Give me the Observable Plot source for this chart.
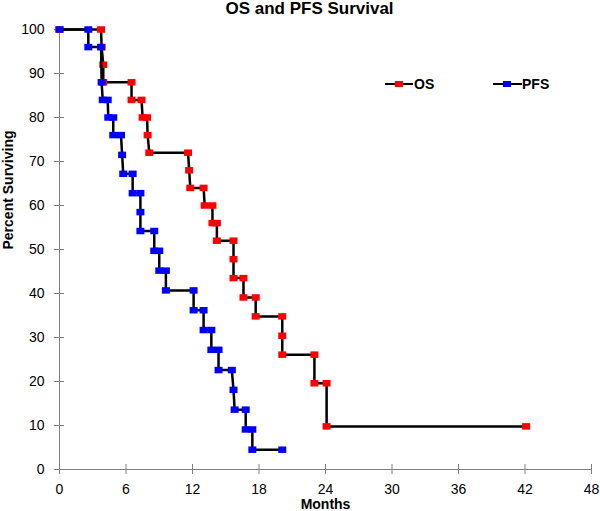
<!DOCTYPE html>
<html>
<head>
<meta charset="utf-8">
<script src="https://cdn.jsdelivr.net/npm/d3@7"></script>
<script src="https://cdn.jsdelivr.net/npm/@observablehq/plot@0.6"></script>
<style>
  html, body { margin: 0; padding: 0; background: #fff; }
  #wrap { position: relative; width: 600px; height: 511px; font-family: Arial, "Liberation Sans", sans-serif; }
  .lg { position: absolute; }
  .lg-line { height: 2.5px; background: #000; }
  .lg-sq { width: 8px; height: 6.5px; }
  .lg-txt { font: bold 14px Arial, "Liberation Sans", sans-serif; color: #000; transform: translateY(-50%); line-height: 1; }
</style>
</head>
<body>
<div id="wrap"></div>
<script>
// ---- data ----
const title = "OS and PFS Survival";
const xLabel = "Months";
const yLabel = "Percent Surviving";
const xTicks = [0, 6, 12, 18, 24, 30, 36, 42, 48];
const yTicks = [0, 10, 20, 30, 40, 50, 60, 70, 80, 90, 100];
const seriesNames = ["OS", "PFS"];
const seriesColors = ["#ff0000", "#0000ff"];

const osMonths  = [0, 3.75, 3.8, 3.95, 3.95, 6.5, 6.5, 7.4, 7.5, 7.9, 7.95, 8.1, 11.6, 11.7, 11.8, 13.0, 13.1, 13.8, 13.8, 14.2, 14.2, 15.7, 15.7, 15.7, 16.6, 16.6, 17.7, 17.7, 20.1, 20.1, 20.1, 23.0, 23.0, 24.1, 24.1, 42.1];
const osPercent = [100, 100, 96, 92, 88, 88, 84, 84, 80, 80, 76, 72, 72, 68, 64, 64, 60, 60, 56, 56, 52, 52, 47.8, 43.5, 43.5, 39.1, 39.1, 34.8, 34.8, 30.4, 26.1, 26.1, 19.6, 19.6, 9.8, 9.8];

const pfsMonths  = [0, 2.6, 2.6, 3.75, 3.8, 3.9, 4.35, 4.4, 4.85, 4.85, 5.55, 5.65, 5.75, 6.6, 6.6, 7.3, 7.3, 7.3, 8.55, 8.55, 9.0, 9.0, 9.6, 9.6, 12.1, 12.1, 13.0, 13.0, 13.7, 13.7, 14.35, 14.35, 15.55, 15.7, 15.8, 16.8, 16.8, 17.4, 17.4, 20.1];
const pfsPercent = [100, 100, 96, 96, 88, 84, 84, 80, 80, 76, 76, 71.5, 67.2, 67.2, 62.8, 62.8, 58.5, 54.2, 54.2, 49.7, 49.7, 45.2, 45.2, 40.7, 40.7, 36.2, 36.2, 31.7, 31.7, 27.2, 27.2, 22.6, 22.6, 18.1, 13.6, 13.6, 9.1, 9.1, 4.5, 4.5];

// ---- build tables ----
const osData = osMonths.map((m, i) => ({month: m, pct: osPercent[i]}));
const pfsData = pfsMonths.map((m, i) => ({month: m, pct: pfsPercent[i]}));

// rectangular marker (slightly wider than tall)
const boxSymbol = {
  draw(context) {
    context.rect(-4, -3.25, 8, 6.5);
  }
};

const axisGray = "#808080";

const chart = Plot.plot({
  width: 600,
  height: 511,
  marginTop: 29,
  marginBottom: 42,
  marginLeft: 59,
  marginRight: 9,
  style: {fontFamily: "Arial, 'Liberation Sans', sans-serif", fontSize: "14px", background: "#fff", color: "#000", overflow: "visible"},
  x: {domain: [0, 48]},
  y: {domain: [0, 100]},
  marks: [
    Plot.ruleX([0], {stroke: axisGray, strokeWidth: 1}),
    Plot.ruleY([0], {stroke: axisGray, strokeWidth: 1}),
    Plot.axisX(xTicks, {tickSize: 10, dy: -5, tickFormat: () => "", stroke: axisGray, label: null}),
    Plot.axisX(xTicks, {tickSize: 0, tickPadding: 15, fontSize: 14, label: null}),
    Plot.axisY(yTicks, {tickSize: 10, dx: 5, tickFormat: () => "", stroke: axisGray, label: null}),
    Plot.axisY(yTicks, {tickSize: 0, tickPadding: 15, fontSize: 14, label: null}),
    Plot.line(osData, {x: "month", y: "pct", stroke: "#000", strokeWidth: 2.5}),
    Plot.dot(osData, {x: "month", y: "pct", symbol: boxSymbol, fill: seriesColors[0], stroke: "none", r: 4}),
    Plot.line(pfsData, {x: "month", y: "pct", stroke: "#000", strokeWidth: 2.5}),
    Plot.dot(pfsData, {x: "month", y: "pct", symbol: boxSymbol, fill: seriesColors[1], stroke: "none", r: 4}),
    Plot.text([title], {text: d => d, frameAnchor: "top", dy: -21, dx: -16, lineAnchor: "middle", fontSize: 17, fontWeight: "bold"}),
    Plot.text([xLabel], {text: d => d, frameAnchor: "bottom", dy: 35, lineAnchor: "middle", fontSize: 14, fontWeight: "bold"}),
    Plot.text([yLabel], {text: d => d, frameAnchor: "left", dx: -51, rotate: -90, lineAnchor: "middle", fontSize: 14, fontWeight: "bold"})
  ]
});

const wrap = document.getElementById("wrap");
wrap.appendChild(chart);

// legend (inside plot area, upper right)
const legendItems = [
  {lineLeft: 385, lineWidth: 28, sqCenter: 399, textLeft: 414},
  {lineLeft: 493, lineWidth: 29, sqCenter: 507, textLeft: 522}
];
const legendY = 84;
seriesNames.forEach((name, i) => {
  const it = legendItems[i];
  const line = document.createElement("div");
  line.className = "lg lg-line";
  line.style.left = it.lineLeft + "px";
  line.style.top = (legendY - 1.25) + "px";
  line.style.width = it.lineWidth + "px";
  wrap.appendChild(line);
  const sq = document.createElement("div");
  sq.className = "lg lg-sq";
  sq.style.left = (it.sqCenter - 4) + "px";
  sq.style.top = (legendY - 3.25) + "px";
  sq.style.background = seriesColors[i];
  wrap.appendChild(sq);
  const tx = document.createElement("div");
  tx.className = "lg lg-txt";
  tx.style.left = it.textLeft + "px";
  tx.style.top = legendY + "px";
  tx.textContent = name;
  wrap.appendChild(tx);
});
</script>
</body>
</html>
